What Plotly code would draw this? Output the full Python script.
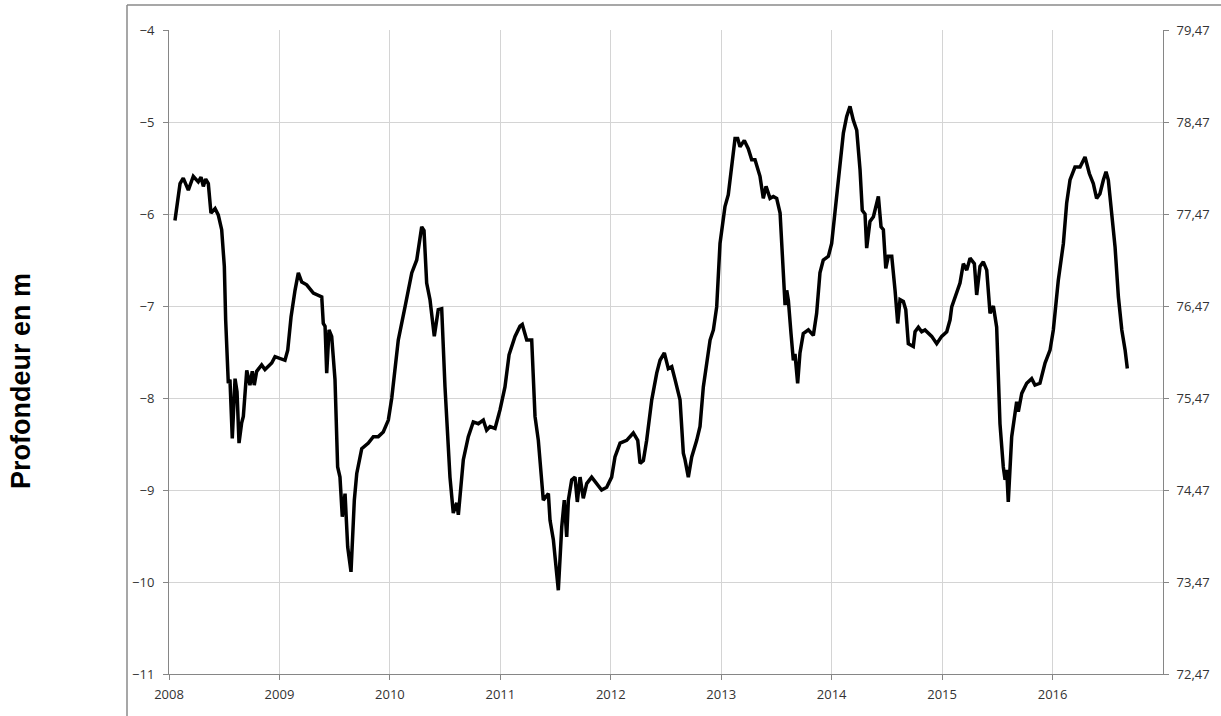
import plotly.graph_objects as go

# Decimal years and depth (m)
years = [
    2008.054, 2008.100, 2008.129, 2008.175, 2008.220, 2008.265, 2008.290, 2008.311, 2008.332, 2008.356,
    2008.380, 2008.417, 2008.446, 2008.477, 2008.501, 2008.507, 2008.513, 2008.537, 2008.552, 2008.573,
    2008.598, 2008.616, 2008.634, 2008.658, 2008.673, 2008.704, 2008.733, 2008.754, 2008.772, 2008.794,
    2008.839, 2008.869, 2008.930, 2008.960, 2009.005, 2009.050, 2009.075, 2009.105, 2009.141, 2009.171,
    2009.202, 2009.247, 2009.307, 2009.383, 2009.397, 2009.413, 2009.428, 2009.449, 2009.473, 2009.503,
    2009.527, 2009.548, 2009.569, 2009.594, 2009.618, 2009.648, 2009.678, 2009.700, 2009.745, 2009.805,
    2009.850, 2009.895, 2009.940, 2009.986, 2010.017, 2010.046, 2010.076, 2010.137, 2010.198, 2010.243,
    2010.288, 2010.309, 2010.333, 2010.363, 2010.402, 2010.438, 2010.469, 2010.499, 2010.544, 2010.574,
    2010.605, 2010.620, 2010.635, 2010.665, 2010.710, 2010.755, 2010.801, 2010.846, 2010.876, 2010.907,
    2010.952, 2010.997, 2011.042, 2011.079, 2011.133, 2011.178, 2011.199, 2011.239, 2011.284, 2011.314,
    2011.344, 2011.389, 2011.435, 2011.450, 2011.480, 2011.510, 2011.525, 2011.556, 2011.579, 2011.601,
    2011.616, 2011.646, 2011.676, 2011.697, 2011.722, 2011.751, 2011.782, 2011.827, 2011.872, 2011.917,
    2011.963, 2012.008, 2012.038, 2012.084, 2012.144, 2012.204, 2012.244, 2012.265, 2012.295, 2012.325,
    2012.371, 2012.416, 2012.446, 2012.485, 2012.521, 2012.552, 2012.582, 2012.627, 2012.657, 2012.672,
    2012.702, 2012.733, 2012.778, 2012.808, 2012.838, 2012.869, 2012.899, 2012.929, 2012.959, 2012.989,
    2013.034, 2013.064, 2013.095, 2013.125, 2013.149, 2013.170, 2013.209, 2013.245, 2013.276, 2013.306,
    2013.351, 2013.381, 2013.406, 2013.442, 2013.472, 2013.502, 2013.533, 2013.563, 2013.578, 2013.593,
    2013.608, 2013.632, 2013.653, 2013.668, 2013.692, 2013.713, 2013.743, 2013.789, 2013.819, 2013.834,
    2013.864, 2013.894, 2013.924, 2013.970, 2014.000, 2014.030, 2014.060, 2014.106, 2014.136, 2014.166,
    2014.196, 2014.227, 2014.257, 2014.277, 2014.302, 2014.317, 2014.347, 2014.378, 2014.423, 2014.447,
    2014.468, 2014.490, 2014.513, 2014.544, 2014.574, 2014.598, 2014.619, 2014.649, 2014.671, 2014.694,
    2014.739, 2014.755, 2014.785, 2014.815, 2014.845, 2014.876, 2014.906, 2014.951, 2014.996, 2015.042,
    2015.072, 2015.087, 2015.132, 2015.162, 2015.192, 2015.223, 2015.253, 2015.292, 2015.313, 2015.343,
    2015.373, 2015.404, 2015.434, 2015.464, 2015.494, 2015.524, 2015.554, 2015.570, 2015.585, 2015.599,
    2015.630, 2015.660, 2015.675, 2015.690, 2015.721, 2015.766, 2015.811, 2015.841, 2015.886, 2015.932,
    2015.977, 2016.007, 2016.052, 2016.098, 2016.128, 2016.158, 2016.203, 2016.249, 2016.294, 2016.333,
    2016.369, 2016.399, 2016.429, 2016.460, 2016.484, 2016.505, 2016.535, 2016.566, 2016.596, 2016.627,
    2016.657, 2016.677,
]
depth = [
    -6.07, -5.67, -5.61, -5.74, -5.59, -5.65, -5.60, -5.70, -5.62, -5.67,
    -5.99, -5.94, -6.01, -6.17, -6.57, -6.97, -7.15, -7.84, -7.80, -8.44,
    -7.79, -7.93, -8.49, -8.27, -8.20, -7.70, -7.86, -7.71, -7.86, -7.71,
    -7.64, -7.69, -7.62, -7.55, -7.57, -7.59, -7.48, -7.12, -6.83, -6.64,
    -6.74, -6.77, -6.86, -6.90, -7.19, -7.22, -7.73, -7.26, -7.33, -7.80,
    -8.75, -8.86, -9.29, -9.04, -9.62, -9.89, -9.11, -8.82, -8.55, -8.49,
    -8.42, -8.42, -8.37, -8.24, -8.00, -7.65, -7.37, -7.01, -6.64, -6.50,
    -6.14, -6.18, -6.75, -6.93, -7.33, -7.04, -7.03, -7.88, -8.86, -9.25,
    -9.14, -9.27, -9.07, -8.67, -8.42, -8.26, -8.28, -8.24, -8.35, -8.31,
    -8.33, -8.13, -7.88, -7.53, -7.33, -7.22, -7.20, -7.37, -7.37, -8.20,
    -8.46, -9.11, -9.04, -9.33, -9.54, -9.98, -10.09, -9.40, -9.11, -9.51,
    -9.11, -8.89, -8.86, -9.13, -8.86, -9.09, -8.93, -8.86, -8.93, -9.00,
    -8.97, -8.86, -8.64, -8.49, -8.46, -8.38, -8.46, -8.71, -8.68, -8.46,
    -8.02, -7.73, -7.59, -7.51, -7.68, -7.66, -7.80, -8.02, -8.60, -8.67,
    -8.86, -8.64, -8.46, -8.31, -7.88, -7.59, -7.37, -7.26, -7.01, -6.32,
    -5.92, -5.79, -5.49, -5.18, -5.18, -5.27, -5.20, -5.29, -5.41, -5.41,
    -5.59, -5.83, -5.70, -5.83, -5.81, -5.83, -5.99, -6.75, -6.99, -6.83,
    -6.94, -7.30, -7.59, -7.52, -7.84, -7.51, -7.30, -7.26, -7.30, -7.32,
    -7.08, -6.64, -6.50, -6.46, -6.32, -5.99, -5.59, -5.12, -4.94, -4.83,
    -4.98, -5.09, -5.52, -5.96, -6.00, -6.37, -6.08, -6.03, -5.81, -6.14,
    -6.17, -6.59, -6.46, -6.46, -6.83, -7.19, -6.93, -6.95, -7.04, -7.41,
    -7.44, -7.28, -7.23, -7.28, -7.26, -7.30, -7.33, -7.41, -7.33, -7.28,
    -7.15, -7.01, -6.86, -6.75, -6.54, -6.61, -6.48, -6.54, -6.88, -6.57,
    -6.52, -6.61, -7.08, -7.00, -7.23, -8.28, -8.75, -8.89, -8.78, -9.13,
    -8.42, -8.13, -8.04, -8.15, -7.95, -7.84, -7.79, -7.86, -7.84, -7.62,
    -7.48, -7.26, -6.72, -6.32, -5.88, -5.63, -5.49, -5.49, -5.38, -5.56,
    -5.67, -5.83, -5.78, -5.63, -5.54, -5.63, -5.96, -6.36, -6.90, -7.26,
    -7.48, -7.68,
]

x_ticks = [2008, 2009, 2010, 2011, 2012, 2013, 2014, 2015, 2016]
x_ticktext = ["2008", "2009", "2010", "2011", "2012", "2013", "2014", "2015", "2016"]
y_ticks = [-11, -10, -9, -8, -7, -6, -5, -4]
y2_ticks = [72.47, 73.47, 74.47, 75.47, 76.47, 77.47, 78.47, 79.47]
y2_ticktext = ["72,47", "73,47", "74,47", "75,47", "76,47", "77,47", "78,47", "79,47"]
offset = 83.47
y_title = "Profondeur en m"

W, H = 1221, 716
L, R, T, B = 169, 58, 30, 42
pw, ph = W - L - R, H - T - B

tick_font = dict(family="Open Sans, DejaVu Sans, sans-serif", size=13, color="#333333")
axis_col = "#868686"
grid_col = "#d4d4d4"

fig = go.Figure()
fig.add_trace(go.Scatter(
    x=years, y=depth, mode="lines",
    line=dict(color="black", width=3.5),
    showlegend=False, hoverinfo="skip",
))
fig.add_trace(go.Scatter(
    x=years, y=[d + offset for d in depth], mode="lines", yaxis="y2",
    line=dict(color="rgba(0,0,0,0)", width=0),
    showlegend=False, hoverinfo="skip",
))

fig.update_layout(
    width=W, height=H,
    margin=dict(l=L, r=R, t=T, b=B, autoexpand=False),
    paper_bgcolor="white", plot_bgcolor="white",
    xaxis=dict(
        range=[2008, 2017], tickvals=x_ticks, ticktext=x_ticktext,
        showgrid=True, gridcolor=grid_col, gridwidth=1,
        showline=True, linecolor=axis_col, linewidth=1,
        ticks="outside", ticklen=5, tickcolor=axis_col,
        tickfont=tick_font, zeroline=False, ticklabelstandoff=3,
    ),
    yaxis=dict(
        range=[-11, -4], tickvals=y_ticks,
        showgrid=True, gridcolor=grid_col, gridwidth=1,
        showline=True, linecolor=axis_col, linewidth=1,
        ticks="outside", ticklen=5, tickcolor=axis_col,
        tickfont=tick_font, zeroline=False, ticklabelstandoff=6,
    ),
    yaxis2=dict(
        range=[72.47, 79.47], tickvals=y2_ticks, ticktext=y2_ticktext,
        overlaying="y", side="right", showgrid=False,
        showline=True, linecolor=axis_col, linewidth=1,
        ticks="outside", ticklen=5, tickcolor=axis_col,
        tickfont=tick_font, zeroline=False, ticklabelstandoff=5,
    ),
    annotations=[dict(
        text=y_title, textangle=-90, showarrow=False,
        xref="paper", yref="paper",
        x=(21 - L) / pw, y=(H - B - 381) / ph,
        xanchor="center", yanchor="middle",
        font=dict(family="Liberation Sans, Arial, sans-serif", size=27,
                  color="black", weight="bold"),
    )],
    shapes=[
        dict(type="line", xref="paper", yref="paper",
             x0=(127 - L) / pw, x1=(W - L) / pw,
             y0=(H - B - 5) / ph, y1=(H - B - 5) / ph,
             line=dict(color="#8a8a8a", width=1.5)),
        dict(type="line", xref="paper", yref="paper",
             x0=(127 - L) / pw, x1=(127 - L) / pw,
             y0=(H - B - 5) / ph, y1=(H - B - H) / ph,
             line=dict(color="#8a8a8a", width=1.5)),
    ],
)

fig.write_html(
    "out.html",
    config={"displayModeBar": False},
    post_script="document.body.style.margin='0';document.body.style.overflow='hidden';",
)
